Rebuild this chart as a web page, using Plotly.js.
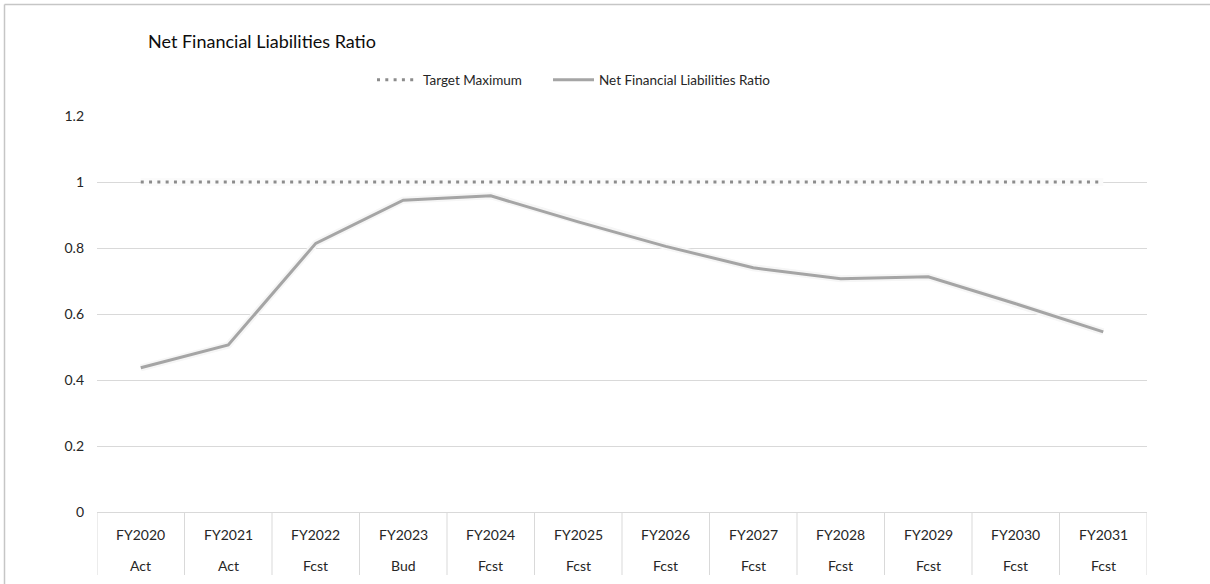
<!DOCTYPE html>
<html>
<head>
<meta charset="utf-8">
<script src="https://cdn.plot.ly/plotly-3.0.1.min.js"></script>
<style>
  html, body { margin: 0; padding: 0; background: #ffffff; }
  #chart { width: 1210px; height: 584px; }
</style>
</head>
<body>
<div id="chart"></div>
<script>
// Fiscal years and their status labels (second row of the category axis)
const fiscalYears = ['FY2020', 'FY2021', 'FY2022', 'FY2023', 'FY2024', 'FY2025',
                     'FY2026', 'FY2027', 'FY2028', 'FY2029', 'FY2030', 'FY2031'];
const periodTypes = ['Act', 'Act', 'Fcst', 'Bud', 'Fcst', 'Fcst',
                     'Fcst', 'Fcst', 'Fcst', 'Fcst', 'Fcst', 'Fcst'];

// Series values
const netFinancialLiabilitiesRatio = [0.437, 0.506, 0.814, 0.945, 0.958, 0.879,
                                      0.805, 0.740, 0.707, 0.713, 0.631, 0.546];
const targetMaximum = [1, 1, 1, 1, 1, 1, 1, 1, 1, 1, 1, 1];

const yTicks = [0, 0.2, 0.4, 0.6, 0.8, 1, 1.2];
const yTickText = ['0', '0.2', '0.4', '0.6', '0.8', '1', '1.2'];

// Layout geometry (pixels)
const W = 1210, H = 584;
const M = { l: 97, r: 63, t: 116, b: 72 };
const plotW = W - M.l - M.r;
const plotH = H - M.t - M.b;
const px2paperX = (px) => (px - M.l) / plotW;
const px2paperY = (py) => (H - M.b - py) / plotH;

const FONT = 'Lato, "Open Sans", sans-serif';
const TXT = '#262626';
const GRID = '#d9d9d9';

const traces = [
  // soft halo beneath the target line
  {
    x: fiscalYears, y: targetMaximum, type: 'scatter', mode: 'lines',
    line: { color: '#fbfbfb', width: 8 }, showlegend: false, hoverinfo: 'skip'
  },
  {
    x: fiscalYears, y: targetMaximum, type: 'scatter', mode: 'lines',
    name: 'Target Maximum', legend: 'legend',
    line: { color: '#8c8c8c', width: 3, dash: '3px,5.3px' }
  },
  // soft halo beneath the ratio line
  {
    x: fiscalYears, y: netFinancialLiabilitiesRatio, type: 'scatter', mode: 'lines',
    line: { color: '#f6f6f6', width: 7 }, showlegend: false, hoverinfo: 'skip'
  },
  {
    x: fiscalYears, y: netFinancialLiabilitiesRatio, type: 'scatter', mode: 'lines',
    name: 'Net Financial Liabilities Ratio', legend: 'legend2',
    line: { color: '#a5a5a5', width: 3 }
  }
];

// Two-row category labels below the axis
const annotations = [];
fiscalYears.forEach((fy, i) => {
  annotations.push({
    x: fy, xref: 'x', y: px2paperY(534), yref: 'paper',
    text: fy, showarrow: false, xanchor: 'center', yanchor: 'middle',
    font: { family: FONT, size: 14, color: TXT }
  });
  annotations.push({
    x: fy, xref: 'x', y: px2paperY(565), yref: 'paper',
    text: periodTypes[i], showarrow: false, xanchor: 'center', yanchor: 'middle',
    font: { family: FONT, size: 14, color: TXT }
  });
});

// Vertical dividers between categories, plus the chart frame edges
const shapes = [];
for (let i = 0; i <= fiscalYears.length; i++) {
  shapes.push({
    type: 'line', xref: 'x', yref: 'paper',
    x0: i - 0.5, x1: i - 0.5, y0: 0, y1: px2paperY(575),
    line: { color: GRID, width: 1 }
  });
}
shapes.push({
  type: 'line', xref: 'paper', yref: 'paper',
  x0: px2paperX(4.5), x1: px2paperX(W + 5), y0: px2paperY(4.5), y1: px2paperY(4.5),
  line: { color: '#c6c6c6', width: 1.5 }
});
shapes.push({
  type: 'line', xref: 'paper', yref: 'paper',
  x0: px2paperX(4.5), x1: px2paperX(4.5), y0: px2paperY(4.5), y1: px2paperY(H + 5),
  line: { color: '#c6c6c6', width: 1.5 }
});

const legendBase = {
  orientation: 'h',
  xanchor: 'left',
  y: px2paperY(80), yanchor: 'middle',
  font: { family: FONT, size: 13.5, color: TXT },
  bgcolor: 'rgba(0,0,0,0)',
  itemwidth: 41
};

const layout = {
  width: W, height: H,
  margin: M,
  paper_bgcolor: '#ffffff', plot_bgcolor: '#ffffff',
  font: { family: FONT, size: 14, color: TXT },
  title: {
    text: 'Net Financial Liabilities Ratio',
    xref: 'container', yref: 'container',
    x: 148 / W, xanchor: 'left',
    y: 1 - 42 / H, yanchor: 'middle',
    font: { family: FONT, size: 18, color: '#0d0d0d', weight: 400 }
  },
  showlegend: true,
  legend: Object.assign({}, legendBase, { x: px2paperX(372) }),
  legend2: Object.assign({}, legendBase, { x: px2paperX(548) }),
  xaxis: {
    type: 'category',
    range: [-0.5, fiscalYears.length - 0.5],
    showticklabels: false,
    showgrid: false,
    zeroline: false,
    showline: true, linecolor: GRID, linewidth: 1,
    ticks: '',
    fixedrange: true
  },
  yaxis: {
    range: [0, 1.2],
    tickvals: yTicks, ticktext: yTickText,
    showgrid: true, gridcolor: GRID, gridwidth: 1,
    zeroline: false, showline: false, ticks: '',
    ticklabelstandoff: 12,
    tickfont: { family: FONT, size: 14, color: TXT },
    fixedrange: true
  },
  annotations: annotations,
  shapes: shapes
};

Plotly.newPlot('chart', traces, layout, { displayModeBar: false, staticPlot: true });
</script>
</body>
</html>
